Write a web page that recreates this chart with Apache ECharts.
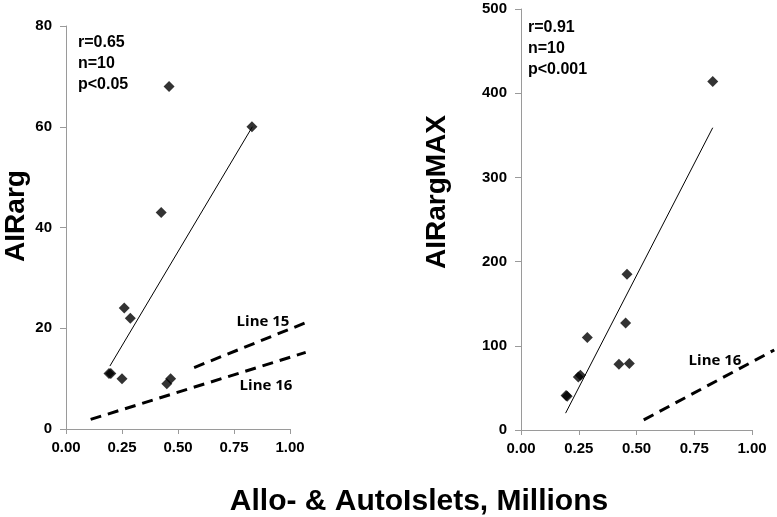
<!DOCTYPE html>
<html>
<head>
<meta charset="utf-8">
<script src="https://cdn.jsdelivr.net/npm/echarts@6/dist/echarts.min.js"></script>
<style>
  html, body { margin: 0; padding: 0; background: #fff; }
  #chart { width: 777px; height: 517px; }
</style>
</head>
<body>
<div id="chart"></div>
<script>
// x ticks (millions of islets)
const xTicks = [0, 0.25, 0.5, 0.75, 1];
// the reference lines run a little past the last tick
const xOverflow = 1.12;

// left panel: AIRarg
const leftIslets = [0.46, 0.83, 0.425, 0.26, 0.287, 0.192, 0.2, 0.25, 0.45, 0.467];
const leftAirarg = [68, 60, 43, 24, 22, 11, 11, 10, 9, 10];
const leftFitX = [0.196, 0.832];
const leftFitY = [12.5, 60];
const line15X = [0.572, 1.07];
const line15Y = [12.2, 21.1];
const line16LeftX = [0.11, 1.07];
const line16LeftY = [1.9, 15.2];

// right panel: AIRargMAX
const rightIslets = [0.83, 0.459, 0.453, 0.287, 0.424, 0.469, 0.257, 0.248, 0.195, 0.2];
const rightAirargMax = [414, 185, 127, 110, 78, 79, 65, 63, 41, 40];
const rightFitX = [0.193, 0.83];
const rightFitY = [20, 359];
const line16RightX = [0.537, 1.108];
const line16RightY = [12, 95];

const zip = (xs, ys) => xs.map((x, i) => [x, ys[i]]);

const font = "'Liberation Sans', Arial, sans-serif";
const axisGrey = "#9a9a9a";

const panels = [
  { left: 66, top: 26, width: 224, height: 403, yMax: 80, yStep: 20 },
  { left: 521, top: 9, width: 231, height: 421, yMax: 500, yStep: 100 },
];

const xAxisBase = (gridIndex) => ({
  type: "value",
  gridIndex: gridIndex,
  min: xTicks[0],
  max: xTicks[xTicks.length - 1],
  interval: 0.25,
  splitLine: { show: false },
  axisLine: { lineStyle: { color: axisGrey } },
  axisTick: { length: 5, lineStyle: { color: axisGrey } },
  axisLabel: {
    color: "#000", fontFamily: font, fontWeight: "bold", fontSize: 15, margin: 11,
    formatter: (v) => v.toFixed(2),
  },
});

const yAxisBase = (gridIndex, max, interval) => ({
  type: "value",
  gridIndex: gridIndex,
  min: 0,
  max: max,
  interval: interval,
  splitLine: { show: false },
  axisLine: { show: true, lineStyle: { color: axisGrey } },
  axisTick: { show: true, length: 6, lineStyle: { color: axisGrey } },
  axisLabel: { color: "#000", fontFamily: font, fontWeight: "bold", fontSize: 15, margin: 14 },
});

// hidden overlay axes, same scale but wider so dashed lines may run past 1.00
const hiddenX = (gridIndex) => ({ type: "value", gridIndex: gridIndex, min: 0, max: xOverflow, show: false });
const hiddenY = (gridIndex, max) => ({ type: "value", gridIndex: gridIndex, min: 0, max: max, show: false });

const scatter = (idx, data) => ({
  type: "scatter",
  xAxisIndex: idx, yAxisIndex: idx,
  symbol: "diamond",
  symbolSize: 11,
  itemStyle: { color: "#000" },
  data: data,
});

const line = (idx, data, dashed) => ({
  type: "line",
  xAxisIndex: idx, yAxisIndex: idx,
  showSymbol: false,
  clip: false,
  lineStyle: dashed
    ? { color: "#000", width: 3, type: [11, 7] }
    : { color: "#000", width: 1 },
  data: data,
});

const statText = (x, y, lines) => ({
  type: "text",
  left: x, top: y,
  style: {
    text: lines.join("\n"),
    font: "bold 16px " + font,
    lineHeight: 21,
    fill: "#000",
  },
});

const lineLabel = (x, y, text) => ({
  type: "text",
  x: x, y: y,
  style: {
    text: text,
    font: "bold 15px 'Open Sans', sans-serif",
    fill: "#000",
    align: "center",
    verticalAlign: "middle",
  },
});

const axisTitle = (x, y, text) => ({
  type: "text",
  x: x, y: y,
  rotation: Math.PI / 2,
  style: {
    text: text,
    font: "bold 28px " + font,
    fill: "#000",
    align: "center",
    verticalAlign: "middle",
  },
});

const chart = echarts.init(document.getElementById("chart"), null, { renderer: "canvas" });

chart.setOption({
  animation: false,
  grid: [
    ...panels.map((p) => ({ left: p.left, top: p.top, width: p.width, height: p.height })),
    ...panels.map((p) => ({ left: p.left, top: p.top, width: p.width * xOverflow, height: p.height })),
  ],
  xAxis: [xAxisBase(0), xAxisBase(1), hiddenX(2), hiddenX(3)],
  yAxis: [
    yAxisBase(0, panels[0].yMax, panels[0].yStep),
    yAxisBase(1, panels[1].yMax, panels[1].yStep),
    hiddenY(2, panels[0].yMax),
    hiddenY(3, panels[1].yMax),
  ],
  series: [
    line(0, zip(leftFitX, leftFitY), false),
    line(2, zip(line15X, line15Y), true),
    line(2, zip(line16LeftX, line16LeftY), true),
    scatter(0, zip(leftIslets, leftAirarg)),
    line(1, zip(rightFitX, rightFitY), false),
    line(3, zip(line16RightX, line16RightY), true),
    scatter(1, zip(rightIslets, rightAirargMax)),
  ],
  graphic: [
    statText(78, 32, ["r=0.65", "n=10", "p<0.05"]),
    statText(528, 17, ["r=0.91", "n=10", "p<0.001"]),
    lineLabel(263, 322, "Line 15"),
    lineLabel(266, 386, "Line 16"),
    lineLabel(715, 361, "Line 16"),
    axisTitle(16, 216, "AIRarg"),
    axisTitle(437, 192, "AIRargMAX"),
    {
      type: "text",
      x: 419, y: 502,
      style: {
        text: "Allo- & AutoIslets, Millions",
        font: "bold 30px " + font,
        fill: "#000",
        align: "center",
        verticalAlign: "middle",
      },
    },
  ],
});
</script>
</body>
</html>
